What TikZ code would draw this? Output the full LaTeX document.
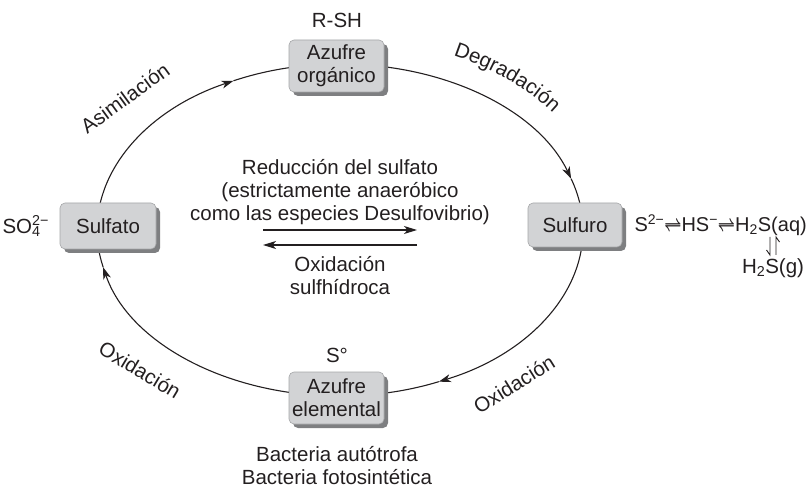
\documentclass[tikz,border=0pt]{standalone}
\usepackage{fontspec}
\setmainfont{Liberation Sans}
\usetikzlibrary{arrows.meta,shadows,calc,decorations.text}
\definecolor{boxgray}{HTML}{D2D3D5}
\definecolor{boxedge}{HTML}{A5A6A8}
\definecolor{shadowgray}{HTML}{7E7F81}
\definecolor{ink}{HTML}{231F20}
\tikzset{
  every node/.style={font=\fontsize{20.5}{23}\selectfont, text=ink, inner sep=0pt},
  stagebox/.style={draw=boxedge, line width=0.6pt, fill=boxgray, rounded corners=5pt,
    align=center, drop shadow={shadow xshift=4pt, shadow yshift=-4pt, fill=shadowgray, opacity=1}},
  cycleline/.style={draw=ink, line width=1.1pt},
  cyclearrow/.style={cycleline, -{Stealth[length=12pt,width=8pt,inset=3.5pt]}},
  midarrow/.style={draw=ink, line width=1.3pt, -{Stealth[length=13pt,width=8pt,inset=3.5pt]}},
  lbl/.style={align=center}
}
\newcommand{\eqharp}{\scalebox{0.72}[1]{\boldmath$\rightleftharpoons$}}
\begin{document}
\begin{tikzpicture}[x=1pt,y=1pt]
\useasboundingbox (0,0) rectangle (809,488);
\coordinate (E) at (340,258);
% cycle arcs (clockwise)
\draw[cyclearrow] (E) ++(180:243pt and 166pt) arc[start angle=180, end angle=116, x radius=243pt, y radius=166pt];
\draw[cycleline] (E) ++(116:243pt and 166pt) arc[start angle=116, end angle=90, x radius=243pt, y radius=166pt];
\draw[cyclearrow] (E) ++(90:243pt and 166pt) arc[start angle=90, end angle=18, x radius=243pt, y radius=166pt];
\draw[cycleline] (E) ++(18:243pt and 166pt) arc[start angle=18, end angle=0, x radius=243pt, y radius=166pt];
\draw[cyclearrow] (E) ++(0:243pt and 166pt) arc[start angle=0, end angle=-66, x radius=243pt, y radius=166pt];
\draw[cycleline] (E) ++(-66:243pt and 166pt) arc[start angle=-66, end angle=-90, x radius=243pt, y radius=166pt];
\draw[cyclearrow] (E) ++(-90:243pt and 166pt) arc[start angle=-90, end angle=-167, x radius=243pt, y radius=166pt];
\draw[cycleline] (E) ++(-167:243pt and 166pt) arc[start angle=-167, end angle=-180, x radius=243pt, y radius=166pt];
% boxes
\node[stagebox, minimum width=96pt, minimum height=46pt] (sulfato) at (108,262) {Sulfato};
\node[stagebox, minimum width=94pt, minimum height=44pt] (sulfuro) at (575,263) {Sulfuro};
\node[stagebox, minimum width=95pt, minimum height=52pt] (organico) at (336.5,422) {Azufre\\orgánico};
\node[stagebox, minimum width=95pt, minimum height=52pt] (elemental) at (336.5,90) {Azufre\\elemental};
% formulas
\node (rsh) at (337,468) {R-SH};
\node (s0) at (337,133) {S°};
\node[lbl] (bact) at (337,22) {Bacteria autótrofa\\Bacteria fotosintética};
\node (so4) at (30,262) {SO\rlap{\textsuperscript{2−}}\textsubscript{4}\hphantom{\textsuperscript{2−}}};
\node[anchor=east, font=\fontsize{20}{23}\selectfont] (chem) at (807,263) {S\textsuperscript{2−}\eqharp HS\textsuperscript{−}\eqharp H\textsubscript{2}S(aq)};
\node (h2sg) at (773,220) {H\textsubscript{2}S(g)};
\coordinate (va1) at (770,251);
\coordinate (va2) at (770,233);
\coordinate (vb1) at (776,233);
\coordinate (vb2) at (776,251);
\draw[ink, line width=0.9pt] (va1) -- (va2) -- ++(-3.5,5);
\draw[ink, line width=0.9pt] (vb1) -- (vb2) -- ++(3.5,-5);
% cycle labels
\node[rotate=36] (asim) at (125,390) {Asimilación};
\path (E) ++(76:268pt and 193pt) coordinate (dstart);
\path[decorate, decoration={text along path, text align=center,
  text={|\fontsize{20.5}{23}\selectfont\color{ink}|Degradación}}]
  (dstart) arc[start angle=76, end angle=24, x radius=268pt, y radius=193pt];
\node[rotate=32] (oxr) at (514,104) {Oxidación};
\node[rotate=-31] (oxl) at (140,118) {Oxidación};
% centre
\node[lbl] (red) at (340,296) {Reducción del sulfato\\(estrictamente anaeróbico\\como las especies Desulfovibrio)};
\coordinate (ra) at (263,258);
\coordinate (rb) at (417,258);
\coordinate (la) at (417,243);
\coordinate (lb) at (263,243);
\draw[midarrow] (ra) -- (rb);
\draw[midarrow] (la) -- (lb);
\node[lbl] (oxs) at (340,212.5) {Oxidación\\sulfhídroca};
\end{tikzpicture}
\end{document}
